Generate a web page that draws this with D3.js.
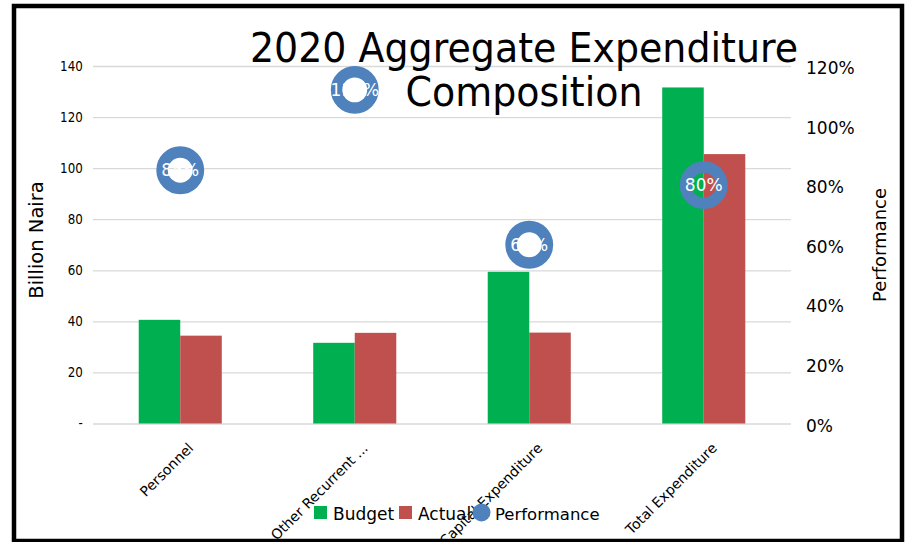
<!DOCTYPE html>
<html>
<head>
<meta charset="utf-8">
<script src="https://cdn.jsdelivr.net/npm/d3@7"></script>
<style>
  body { margin: 0; background: #fff; }
  svg { display: block; font-family: "DejaVu Sans", sans-serif; }
</style>
</head>
<body>
<svg width="906" height="542"></svg>
<script>
// values
var categories = ["Personnel", "Other Recurrent ...", "Capital Expenditure", "Total Expenditure"];
var budget = [40.6, 31.6, 59.4, 131.6];
var actual = [34.4, 35.5, 35.6, 105.5];
var performance = [0.85, 1.12, 0.60, 0.80];
var perfLabels = ["85%", "112%", "60%", "80%"];
var yTicks = [0, 20, 40, 60, 80, 100, 120, 140];
var y2Ticks = [0, 0.2, 0.4, 0.6, 0.8, 1.0, 1.2];
var seriesNames = ["Budget", "Actual", "Performance"];

var green = "#00b050", red = "#c0504d", blue = "#4f81bd";

var svg = d3.select("svg");
var plotL = 93, plotR = 791, plotT = 66, plotB = 423.5;

var x = d3.scaleBand().domain(categories).range([plotL, plotR])
    .paddingInner(0.524).paddingOuter(0.262);
var xs = d3.scaleBand().domain(["budget", "actual"]).range([0, x.bandwidth()]);
var y = d3.scaleLinear().domain([0, 140]).range([plotB, plotT]);
var y2 = d3.scaleLinear().domain([0, 1.2]).range([plotB, plotT]);

// frame
svg.append("rect")
    .attr("x", 14).attr("y", 6).attr("width", 888).attr("height", 535)
    .attr("fill", "none").attr("stroke", "#000").attr("stroke-width", 4.5);

// gridlines
svg.append("g")
    .attr("transform", "translate(" + plotL + ",0)")
    .call(d3.axisLeft(y).tickValues(yTicks).tickSize(-(plotR - plotL)).tickFormat(""))
    .call(function(g) { g.select(".domain").remove(); })
    .selectAll("line").attr("stroke", "#d9d9d9").attr("stroke-width", 1.3);

// left axis
var yAxis = svg.append("g")
    .attr("transform", "translate(" + plotL + ",0)")
    .call(d3.axisLeft(y).tickValues(yTicks).tickSize(0).tickPadding(12)
      .tickFormat(function(d) { return d === 0 ? "-" : d; }));
yAxis.select(".domain").remove();
yAxis.selectAll("text")
    .attr("font-size", 14).attr("font-family", "DejaVu Sans").attr("fill", "#000")
    .attr("transform", "scale(0.85,1)");

// right axis
var y2Axis = svg.append("g")
    .attr("transform", "translate(" + plotR + ",0)")
    .call(d3.axisRight(y2).tickValues(y2Ticks).tickSize(0).tickPadding(15)
      .tickFormat(d3.format(".0%")));
y2Axis.select(".domain").remove();
y2Axis.selectAll("text")
    .attr("font-size", 17).attr("font-family", "DejaVu Sans").attr("fill", "#000")
    .attr("dy", "0.45em");

// bars
var groups = svg.append("g").selectAll("g")
    .data(categories)
    .enter().append("g")
    .attr("transform", function(d) { return "translate(" + x(d) + ",0)"; });

groups.append("rect")
    .attr("x", xs("budget"))
    .attr("y", function(d, i) { return y(budget[i]); })
    .attr("width", xs.bandwidth())
    .attr("height", function(d, i) { return y(0) - y(budget[i]); })
    .attr("fill", green);

groups.append("rect")
    .attr("x", xs("actual"))
    .attr("y", function(d, i) { return y(actual[i]); })
    .attr("width", xs.bandwidth())
    .attr("height", function(d, i) { return y(0) - y(actual[i]); })
    .attr("fill", red);

// category labels
svg.append("g").selectAll("text")
    .data(categories)
    .enter().append("text")
    .attr("transform", function(d) {
      return "translate(" + (x(d) + x.bandwidth() / 2 + 14) + ",449) rotate(-45)";
    })
    .attr("text-anchor", "end")
    .attr("font-size", 14)
    .text(function(d) { return d; });

// title
var title = svg.append("g").attr("transform", "translate(524,0)");
title.append("text")
    .attr("transform", "translate(0,62) scale(0.926,1)")
    .attr("text-anchor", "middle").attr("font-size", 41)
    .text("2020 Aggregate Expenditure");
title.append("text")
    .attr("transform", "translate(0,106) scale(0.926,1)")
    .attr("text-anchor", "middle").attr("font-size", 41)
    .text("Composition");

// performance markers
var marks = svg.append("g").selectAll("g")
    .data(categories)
    .enter().append("g")
    .attr("transform", function(d, i) {
      return "translate(" + (x(d) + x.bandwidth() / 2) + "," + y2(performance[i]) + ")";
    });
marks.append("circle")
    .attr("r", 18.2)
    .attr("fill", "none")
    .attr("stroke", blue)
    .attr("stroke-width", 11.5);
marks.append("text")
    .attr("text-anchor", "middle")
    .attr("dy", "0.36em")
    .attr("font-size", 17)
    .attr("fill", "#fff")
    .text(function(d, i) { return perfLabels[i]; });

// axis titles
svg.append("text")
    .attr("transform", "translate(43,240) rotate(-90)")
    .attr("text-anchor", "middle").attr("font-size", 19.5)
    .text("Billion Naira");
svg.append("text")
    .attr("transform", "translate(886,245) rotate(-90)")
    .attr("text-anchor", "middle").attr("font-size", 18)
    .text("Performance");

// legend
var legend = svg.append("g").attr("font-size", 17);
legend.append("rect").attr("x", 314).attr("y", 506).attr("width", 13).attr("height", 13).attr("fill", green);
legend.append("text").attr("x", 333).attr("y", 520).text(seriesNames[0]);
legend.append("rect").attr("x", 399).attr("y", 506).attr("width", 13).attr("height", 13).attr("fill", red);
legend.append("text").attr("x", 418).attr("y", 520).text(seriesNames[1]);
legend.append("circle").attr("cx", 481.5).attr("cy", 512.5).attr("r", 9).attr("fill", blue);
legend.append("text").attr("x", 495).attr("y", 520).attr("font-size", 16.5).text(seriesNames[2]);
</script>
</body>
</html>
